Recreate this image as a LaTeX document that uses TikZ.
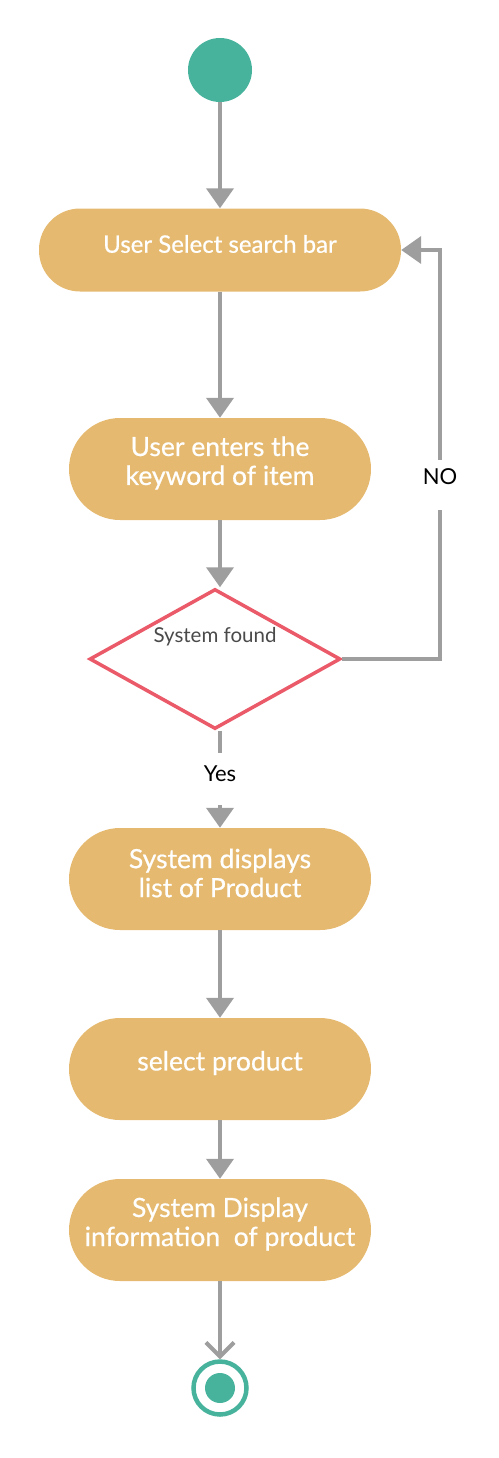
\documentclass[tikz,border=0pt]{standalone}
\usepackage{fontspec}
\setmainfont{Lato}
\newfontfamily\boxfont{Lato}[FakeBold=0.6]
\usetikzlibrary{arrows.meta,shapes.geometric}
\definecolor{boxc}{HTML}{E5BA70}
\definecolor{greenc}{HTML}{47B39D}
\definecolor{redc}{HTML}{EA5A69}
\definecolor{linec}{HTML}{9E9E9E}
\definecolor{txtc}{HTML}{4A4A4A}
\begin{document}
\begin{tikzpicture}[x=1pt,y=-1pt,
  act/.style={fill=boxc, minimum width=302pt, minimum height=102pt, rounded corners=51pt},
  acttxt/.style={text=white, font=\boxfont\fontsize{26.5}{29}\selectfont, align=center, inner sep=0pt},
  line/.style={draw=linec, line width=4pt},
  flow/.style={line, -{Triangle[length=20pt,width=27pt]}},
  lbl/.style={text=black, font=\fontsize{22}{25}\selectfont, inner sep=0pt, anchor=base}
  ]
\useasboundingbox (0,0) rectangle (498,1458);
\node[circle, fill=greenc, minimum size=64pt, inner sep=0pt] (start) at (220,70) {};
\node[act, minimum width=362pt, minimum height=83pt, rounded corners=41pt] (a1) at (220,250) {};
\node[acttxt, font=\boxfont\fontsize{24}{28}\selectfont] (t1) at (220,244) {User Select search bar};
\node[act] (a2) at (220,469) {};
\node[acttxt] (t2) at (220,463) {User enters the\\keyword of item};
\node[diamond, draw=redc, fill=white, line width=3.5pt, minimum width=251pt, minimum height=140pt,
  aspect=1.79, inner sep=0pt] (d) at (215,659) {};
\node[text=txtc, font=\fontsize{20.5}{24}\selectfont, inner sep=0pt] (dt) at (215,637) {System found};
\node[act] (a3) at (220,879) {};
\node[acttxt] (t3) at (220,873) {System displays\\list of Product};
\node[act] (a4) at (220,1069) {};
\node[acttxt] (t4) at (220,1063) {select product};
\node[act] (a5) at (220,1230) {};
\node[acttxt] (t5) at (220,1224) {System Display\\information\ \ of product};
\node[circle, draw=greenc, line width=4.5pt, minimum size=53pt, inner sep=0pt] (end) at (220,1388) {};
\node[circle, fill=greenc, minimum size=30pt, inner sep=0pt] (endin) at (end.center) {};
\node[lbl, text height=28pt, text depth=24pt] (yes) at (220,781) {Yes};
\node[lbl, text height=24pt, text depth=26pt] (no) at (440,484) {NO};
\coordinate (loop) at (440,250);

\draw[flow] (start) -- (a1);
\draw[flow] (a1) -- (a2);
\draw[flow] (a2.south) -- (a2.south |- d.north);
\draw[line] (yes.north |- d.south) -- (yes.north);
\draw[flow] (yes.south) -- (a3.north);
\draw[line] (d.east) -| (no.south);
\draw[flow] (no.north) -- (loop) -- (a1.east);
\draw[flow] (a3) -- (a4);
\draw[flow] (a4) -- (a5);
\draw[line, -{Straight Barb[length=14pt,width=28pt]}] (a5) -- (end);
\end{tikzpicture}
\end{document}
